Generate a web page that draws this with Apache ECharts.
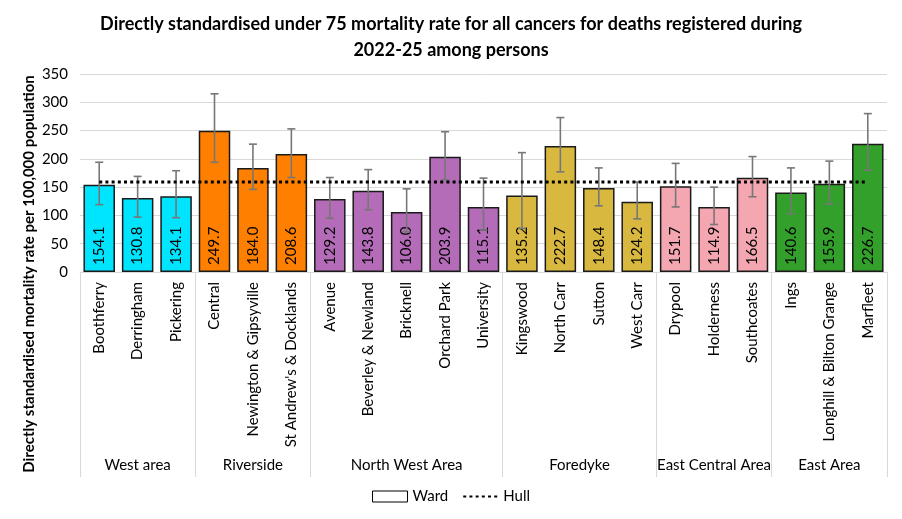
<!DOCTYPE html>
<html>
<head>
<meta charset="utf-8">
<script src="https://cdn.jsdelivr.net/npm/echarts@6/dist/echarts.min.js"></script>
<style>
  html, body { margin: 0; padding: 0; background: #fff; }
  #chart { width: 902px; height: 519px; }
</style>
</head>
<body>
<div id="chart"></div>
<script>
var wards = ['Boothferry', 'Derringham', 'Pickering', 'Central', 'Newington & Gipsyville', "St Andrew's & Docklands",
  'Avenue', 'Beverley & Newland', 'Bricknell', 'Orchard Park', 'University',
  'Kingswood', 'North Carr', 'Sutton', 'West Carr',
  'Drypool', 'Holderness', 'Southcoates', 'Ings', 'Longhill & Bilton Grange', 'Marfleet'];
var groupNames = ['West area', 'Riverside', 'North West Area', 'Foredyke', 'East Central Area', 'East Area'];
var groupSizes = [3, 3, 5, 4, 3, 3];
var groupColors = ['#00E5FF', '#FF8000', '#B46CB8', '#D9B83F', '#F4A6B1', '#34A02C'];
var rates = [154.1, 130.8, 134.1, 249.7, 184.0, 208.6, 129.2, 143.8, 106.0, 203.9, 115.1,
  135.2, 222.7, 148.4, 124.2, 151.7, 114.9, 166.5, 140.6, 155.9, 226.7];
var lowerCI = [119, 97, 96, 194, 146, 167, 95, 110, 71, 163, 74, 77, 177, 117, 94, 115, 84, 133, 103, 120, 180];
var upperCI = [194, 169, 179, 315, 226, 253, 167, 181, 147, 248, 166, 211, 273, 184, 159, 192, 150, 204, 184, 196, 280];
var hullRate = 159;

var font = 'Lato';

// colour of each bar from its area
var barData = [];
var boundaries = [0];
var groupCentres = [];
var k = 0;
groupSizes.forEach(function (n, g) {
  for (var i = 0; i < n; i++) {
    barData.push({ value: rates[k], itemStyle: { color: groupColors[g] } });
    k++;
  }
  groupCentres.push(k - n / 2);
  boundaries.push(k);
});

var errData = wards.map(function (w, i) { return [i, lowerCI[i], upperCI[i]]; });
var hullData = wards.map(function () { return hullRate; });

var chart = echarts.init(document.getElementById('chart'));
var option = {
  animation: false,
  textStyle: { fontFamily: font },
  title: {
    text: 'Directly standardised under 75 mortality rate for all cancers for deaths registered during\n2022-25 among persons',
    left: 'center',
    top: 6,
    textStyle: { fontFamily: font, fontSize: 18, fontWeight: 'bold', color: '#000', lineHeight: 26 }
  },
  graphic: [{
    type: 'text',
    x: 29,
    y: 274,
    rotation: Math.PI / 2,
    style: {
      text: 'Directly standardised mortality rate per 100,000 population',
      font: 'bold 15px Lato',
      fill: '#000',
      textAlign: 'center',
      textVerticalAlign: 'middle'
    }
  }],
  legend: {
    bottom: 10,
    left: 'center',
    itemWidth: 35,
    itemHeight: 11,
    itemGap: 14,
    textStyle: { fontFamily: font, fontSize: 15, color: '#000' },
    data: [
      { name: 'Ward', icon: 'rect', itemStyle: { color: '#fff', borderColor: '#000', borderWidth: 1 } },
      { name: 'Hull', itemStyle: { color: 'rgba(0,0,0,0)', borderWidth: 0 } }
    ]
  },
  grid: { left: 80, right: 15, top: 74, bottom: 247 },
  xAxis: [{
    type: 'category',
    data: wards,
    axisLine: { show: true, lineStyle: { color: '#D9D9D9' } },
    axisTick: { show: false },
    axisLabel: { rotate: 90, interval: 0, margin: 10, fontSize: 15, color: '#000', fontFamily: font }
  }, {
    type: 'value',
    min: 0,
    max: wards.length,
    position: 'bottom',
    axisLine: { show: false },
    splitLine: { show: false },
    axisTick: {
      show: true,
      length: 205,
      customValues: boundaries,
      lineStyle: { color: '#D9D9D9' }
    },
    axisLabel: {
      customValues: groupCentres,
      margin: 186,
      fontSize: 15,
      color: '#000',
      fontFamily: font,
      formatter: function (v) {
        var i = groupCentres.indexOf(v);
        return i >= 0 ? groupNames[i] : '';
      }
    }
  }],
  yAxis: {
    type: 'value',
    min: 0,
    max: 350,
    interval: 50,
    axisLine: { show: false },
    axisTick: { show: false },
    axisLabel: { fontSize: 15, color: '#000', margin: 12, fontFamily: font },
    splitLine: { lineStyle: { color: '#D9D9D9' } }
  },
  series: [{
    name: 'Ward',
    type: 'bar',
    data: barData,
    barCategoryGap: '18%',
    itemStyle: { color: '#fff', borderColor: '#1a1a1a', borderWidth: 1.5 },
    label: {
      show: true,
      position: 'insideBottom',
      rotate: 90,
      align: 'left',
      verticalAlign: 'middle',
      distance: 7,
      fontSize: 15,
      color: '#000',
      fontFamily: font,
      formatter: function (p) { return p.value.toFixed(1); }
    },
    z: 2
  }, {
    name: 'CI',
    type: 'custom',
    data: errData,
    encode: { x: 0, y: [1, 2] },
    renderItem: function (params, api) {
      var lo = api.coord([api.value(0), api.value(1)]);
      var hi = api.coord([api.value(0), api.value(2)]);
      var w = 4;
      var st = { stroke: '#777777', lineWidth: 1.6 };
      return {
        type: 'group',
        children: [
          { type: 'line', shape: { x1: lo[0], y1: lo[1], x2: hi[0], y2: hi[1] }, style: st },
          { type: 'line', shape: { x1: lo[0] - w, y1: lo[1], x2: lo[0] + w, y2: lo[1] }, style: st },
          { type: 'line', shape: { x1: hi[0] - w, y1: hi[1], x2: hi[0] + w, y2: hi[1] }, style: st }
        ]
      };
    },
    z: 3
  }, {
    name: 'Hull',
    type: 'line',
    data: hullData,
    symbol: 'none',
    lineStyle: { color: '#000', width: 3, type: [3, 3.2] },
    itemStyle: { color: '#000' },
    z: 4
  }]
};
chart.setOption(option);
</script>
</body>
</html>
